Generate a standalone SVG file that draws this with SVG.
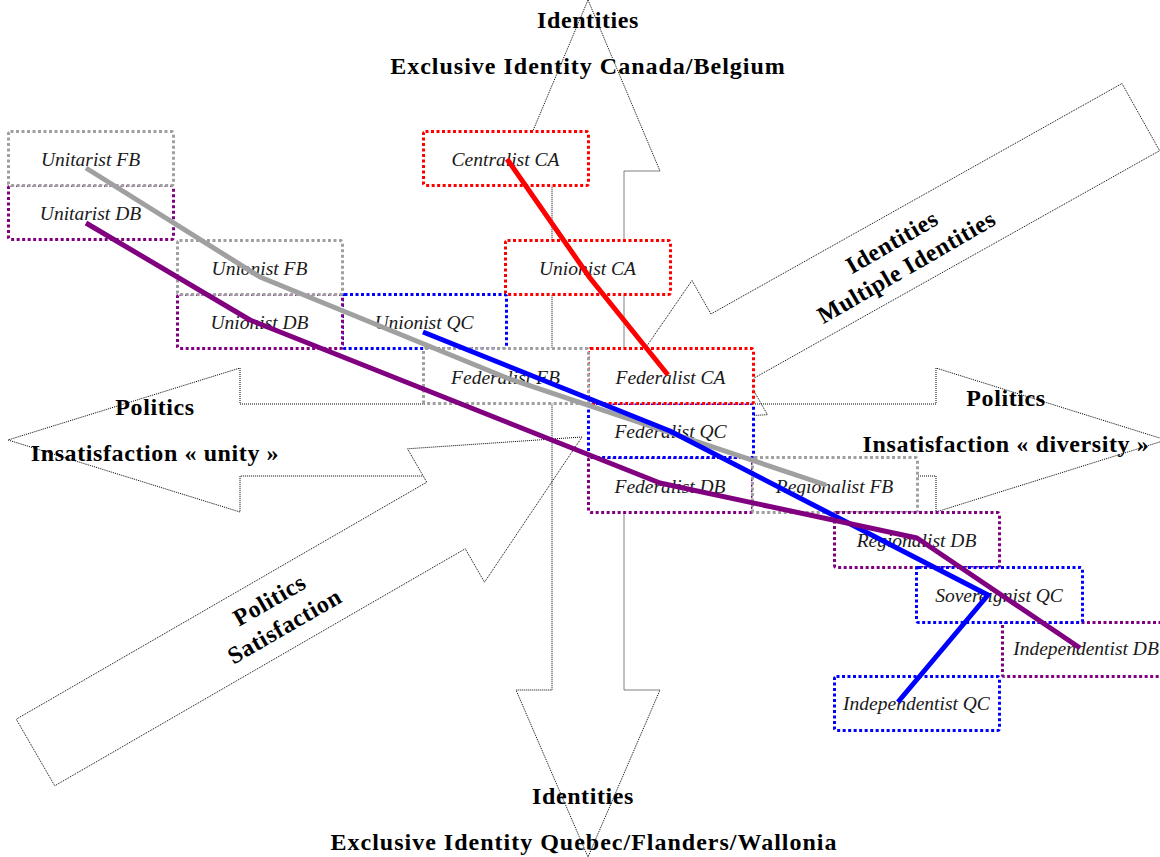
<svg xmlns="http://www.w3.org/2000/svg" width="1160" height="857" viewBox="0 0 1160 857">
<style>
.ax{fill:none;stroke:#000;stroke-width:1;stroke-dasharray:1 1}
.bx{fill:#fff;stroke-width:3;stroke-dasharray:3 2.5}
.g{stroke:#a0a0a0}.p{stroke:#800080}.b{stroke:#0000ff}.r{stroke:#ff0000}
.t{font-family:"Liberation Serif","Times New Roman",serif;font-style:italic;font-size:19.5px;fill:#1a1a1a;text-anchor:middle}
.h{font-family:"Liberation Serif","Times New Roman",serif;font-weight:bold;font-size:24px;fill:#000;text-anchor:middle;letter-spacing:0.6px}
.hw{letter-spacing:1px}
.ln{fill:none;stroke-width:5;stroke-linejoin:round}
</style>
<rect width="1160" height="857" fill="#fff"/>
<g id="axes">
<polygon class="ax" points="588,0 660,171 624,171 624,690 660,690 588,857 516,690 552,690 552,171 516,171"/>
<path class="ax" d="M425,404 L240,404 L240,368 L8,440 L240,512 L240,476 L423,476 M755,404 L936,404 L936,368 L1166,440 L936,512 L936,476 L917,476"/>
<polygon class="ax" points="582,437 407.5,448.8 426.75,482.2 16.25,719.2 54.75,785.8 465.25,548.8 484.5,582.2"/>
<polygon class="ax" points="592.8,424.4 692,280.5 710.9,314 1122,83.5 1159.6,150.7 748.5,381.2 767.4,414.7"/>
</g>
<g id="labels">
<text class="h" x="588" y="28">Identities</text>
<text class="h hw" x="588" y="74">Exclusive Identity Canada/Belgium</text>
<text class="h" x="583" y="804">Identities</text>
<text class="h hw" x="584" y="850">Exclusive Identity Quebec/Flanders/Wallonia</text>
<text class="h" x="155" y="415">Politics</text>
<text class="h" x="155" y="461">Insatisfaction « unity »</text>
<text class="h" x="1006" y="406">Politics</text>
<text class="h" x="1006" y="452">Insatisfaction « diversity »</text>
<g transform="translate(281,620) rotate(-30)">
<text class="h" x="0" y="-15">Politics</text>
<text class="h" x="0" y="15">Satisfaction</text>
</g>
<g transform="translate(903,261) rotate(-30)">
<text class="h" x="0" y="-14">Identities</text>
<text class="h" x="0" y="15">Multiple Identities</text>
</g>
</g>
<g id="n-unitarist-db"><rect class="bx p" x="8.5" y="185.5" width="165" height="54" rx="2"/><text class="t" x="90.5" y="220">Unitarist DB</text></g>
<g id="n-unitarist-fb"><rect class="bx g" x="8.5" y="131.5" width="165" height="54" rx="2"/><text class="t" x="90.5" y="166">Unitarist FB</text></g>
<g id="n-unionist-qc"><rect class="bx b" x="342.5" y="294.5" width="164" height="54" rx="2"/><text class="t" x="424" y="329">Unionist QC</text></g>
<g id="n-unionist-db"><rect class="bx p" x="177.5" y="294.5" width="165" height="54" rx="2"/><text class="t" x="259.5" y="329">Unionist DB</text></g>
<g id="n-unionist-fb"><rect class="bx g" x="177.5" y="240.5" width="165" height="54" rx="2"/><text class="t" x="259.5" y="275">Unionist FB</text></g>
<g id="n-centralist-ca"><rect class="bx r" x="423.5" y="131.5" width="165" height="54" rx="2"/><text class="t" x="505.5" y="166">Centralist CA</text></g>
<g id="n-unionist-ca"><rect class="bx r" x="505.5" y="240.5" width="165" height="54" rx="2"/><text class="t" x="587.5" y="275">Unionist CA</text></g>
<g id="n-federalist-db"><rect class="bx p" x="588.5" y="457.5" width="164" height="55" rx="2"/><text class="t" x="670" y="493">Federalist DB</text></g>
<g id="n-federalist-qc"><rect class="bx b" x="588.5" y="403.5" width="165" height="54" rx="2"/><text class="t" x="670.5" y="438">Federalist QC</text></g>
<g id="n-federalist-ca"><rect class="bx r" x="588.5" y="348.5" width="165" height="55" rx="2"/><text class="t" x="670.5" y="384">Federalist CA</text></g>
<g id="n-federalist-fb"><rect class="bx g" x="423.5" y="348.5" width="165" height="55" rx="2"/><text class="t" x="505.5" y="384">Federalist FB</text></g>
<g id="n-regionalist-fb"><rect class="bx g" x="752.5" y="457.5" width="165" height="55" rx="2"/><text class="t" x="834.5" y="493">Regionalist FB</text></g>
<g id="n-regionalist-db"><rect class="bx p" x="834.5" y="512.5" width="165" height="55" rx="2"/><text class="t" x="916.5" y="547">Regionalist DB</text></g>
<g id="n-independentist-db"><rect class="bx p" x="1002.5" y="622.5" width="166" height="54" rx="2"/><text class="t" x="1086" y="655">Independentist DB</text></g>
<g id="n-sovereignist-qc"><rect class="bx b" x="916.5" y="567.5" width="166" height="55" rx="2"/><text class="t" x="999" y="602">Sovereignist QC</text></g>
<g id="n-independentist-qc"><rect class="bx b" x="834.5" y="676.5" width="165" height="54" rx="2"/><text class="t" x="916.5" y="710">Independentist QC</text></g>
<g id="connectors">
<polyline class="ln g" points="86,168 260,277 507,378 826,485"/>
<polyline class="ln b" points="423,332 670,431 988,595 898,702"/>
<polyline class="ln p" points="86,223 250,320 660,483 917,538 1080,648"/>
<polyline class="ln r" points="507,159 590,278 668,375"/>
</g>
</svg>
